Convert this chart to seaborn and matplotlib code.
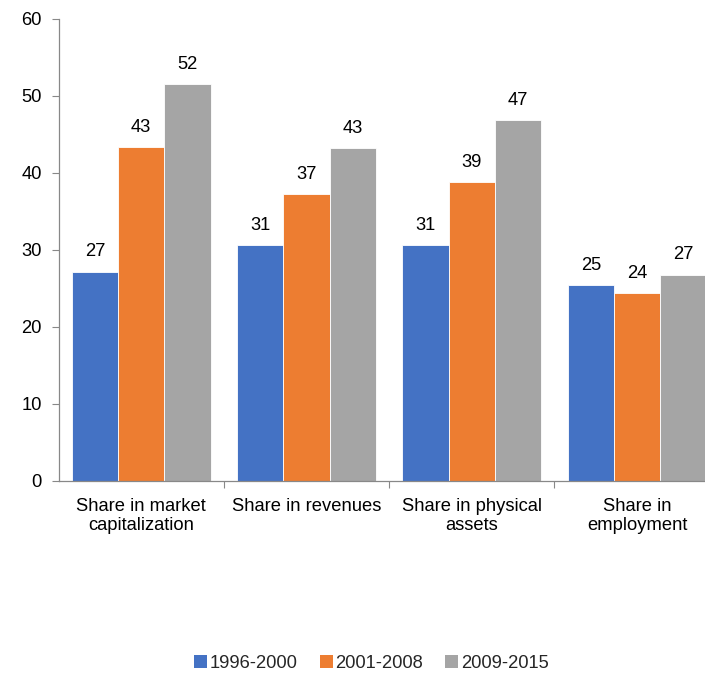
import matplotlib
matplotlib.use("Agg")
import matplotlib.pyplot as plt
import seaborn as sns
import pandas as pd
from matplotlib.patches import Patch

categories = ["Share in market\ncapitalization", "Share in revenues",
              "Share in physical\nassets", "Share in\nemployment"]
periods = ["1996-2000", "2001-2008", "2009-2015"]
v_1996_2000 = [27.2, 30.6, 30.6, 25.4]
v_2001_2008 = [43.4, 37.3, 38.8, 24.4]
v_2009_2015 = [51.6, 43.2, 46.9, 26.8]
colors = ["#4472C4", "#ED7D31", "#A5A5A5"]

df = pd.DataFrame({
    "category": categories * 3,
    "period": [p for p in periods for _ in categories],
    "value": v_1996_2000 + v_2001_2008 + v_2009_2015,
})

sns.set_theme(style="white")
plt.rcParams["font.family"] = ["Liberation Sans", "DejaVu Sans"]
FS = 13.2

fig = plt.figure(figsize=(7.05, 6.76), dpi=100)
ax = fig.add_axes([0.083, 0.2885, 0.938, 0.6835])

sns.barplot(data=df, x="category", y="value", hue="period", order=categories,
            hue_order=periods, palette=colors, width=0.84, saturation=1,
            edgecolor="white", linewidth=0.6, ax=ax, legend=False)

for cont in ax.containers:
    ax.bar_label(cont, labels=[f"{b.get_height():.0f}" for b in cont],
                 padding=8, fontsize=FS, color="#000000")

ax.set_ylim(0, 60)
ax.set_yticks(range(0, 61, 10))
ax.set_xlim(-0.5, 3.5)
ax.set_xlabel("")
ax.set_ylabel("")
ax.tick_params(axis="y", labelsize=FS, colors="#000000", length=5, width=0.8,
               left=True, color="#888888", pad=7)
ax.tick_params(axis="x", labelsize=FS, colors="#000000", length=0, pad=12)
ax.set_xticks([0, 1, 2, 3])
ax.set_xticklabels(categories, linespacing=1.15)
ax.set_xticks([0.5, 1.5, 2.5], minor=True)
ax.tick_params(axis="x", which="minor", length=5, width=0.8, color="#888888",
               bottom=True)
for s in ["top", "right"]:
    ax.spines[s].set_visible(False)
for s in ["left", "bottom"]:
    ax.spines[s].set_color("#888888")
    ax.spines[s].set_linewidth(0.9)

handles = [Patch(facecolor=c, edgecolor="none") for c in colors]
fig.legend(handles, periods, loc="center", bbox_to_anchor=(0.527, 0.018),
           ncol=3, frameon=False, fontsize=FS, handlelength=0.7,
           handleheight=0.7, handletextpad=0.15, columnspacing=1.2)

fig.savefig("out.png", dpi=100)
